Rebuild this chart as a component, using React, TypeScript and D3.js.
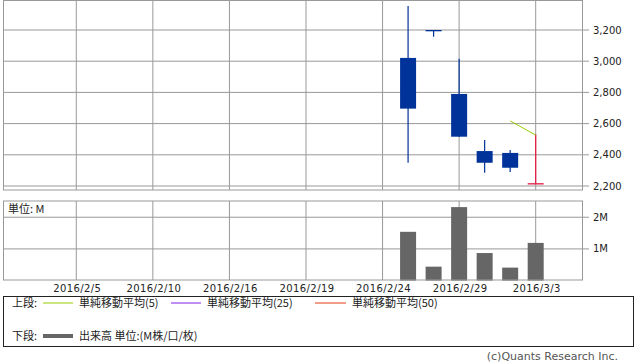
import React from "react";
import * as d3 from "d3";

const tradingDays = [
  "2016/2/2", "2016/2/3", "2016/2/4", "2016/2/5", "2016/2/8", "2016/2/9", "2016/2/10",
  "2016/2/12", "2016/2/15", "2016/2/16", "2016/2/17", "2016/2/18", "2016/2/19",
  "2016/2/22", "2016/2/23", "2016/2/24", "2016/2/25", "2016/2/26", "2016/2/29",
  "2016/3/1", "2016/3/2", "2016/3/3", "2016/3/4",
];
const xTickLabels = ["2016/2/5", "2016/2/10", "2016/2/16", "2016/2/19", "2016/2/24", "2016/2/29", "2016/3/3"];

const candleDates = ["2016/2/25", "2016/2/26", "2016/2/29", "2016/3/1", "2016/3/2", "2016/3/3"];
const opens = [3021, 3200, 2790, 2424, 2412, 2217];
const highs = [3354, 3200, 3015, 2495, 2431, 2531];
const lows = [2349, 3157, 2516, 2285, 2290, 2217];
const closes = [2696, 3199, 2516, 2349, 2317, 2218];
const volumes = [1.54, 0.44, 2.32, 0.87, 0.41, 1.19];

const ma5Dates = ["2016/3/2", "2016/3/3"];
const ma5Values = [2617, 2527];

const priceTicks = [2200, 2400, 2600, 2800, 3000, 3200];
const volumeTicks = [1, 2];

const W = 638;
const H = 362;
const left = 3.5;
const right = 582.5;
const pTop = 0.5;
const pBottom = 190;
const vTop = 201;
const vBottom = 280;

const GRID = "#999999";
const BLUE = "#003399";
const RED = "#e5173f";
const NUM_FONT = "'DejaVu Sans', sans-serif";
const JP_FONT = "'Noto Sans CJK JP', sans-serif";

export default function App() {
  const idx = (d: string) => tradingDays.indexOf(d);
  const x = d3.scaleLinear().domain([0.148, 22.834]).range([left, right]);
  const y = d3.scaleLinear().domain([2200, 3200]).range([186, 30]);
  const yv = d3.scaleLinear().domain([0, 2.5]).range([280.6, 201.4]);
  const fmt = d3.format(",");
  const bodyW = 16;

  const maLine = d3
    .line<number>()
    .x((_, i) => x(idx(ma5Dates[i])))
    .y((v) => y(v))(ma5Values);

  return (
    <svg
      width={W}
      height={H}
      style={{ position: "absolute", left: 0, top: 0, background: "#fff" }}
    >
      {/* price panel grid */}
      {priceTicks.map((t) => (
        <g key={"pt" + t}>
          <line x1={left} x2={right} y1={y(t)} y2={y(t)} stroke={GRID} strokeWidth={1} />
          <line x1={right} x2={589} y1={y(t)} y2={y(t)} stroke={GRID} strokeWidth={1} />
          <text x={593} y={y(t)} dy="0.35em" fontSize={10} fontFamily={NUM_FONT} fill="#222">
            {fmt(t)}
          </text>
        </g>
      ))}
      {xTickLabels.map((d) => (
        <g key={"xg" + d}>
          <line x1={x(idx(d))} x2={x(idx(d))} y1={pTop} y2={pBottom} stroke={GRID} strokeWidth={1} />
          <line x1={x(idx(d))} x2={x(idx(d))} y1={vTop} y2={vBottom} stroke={GRID} strokeWidth={1} />
          <text x={x(idx(d)) + 1} y={291.5} textAnchor="middle" fontSize={10} fontFamily={NUM_FONT} fill="#222" letterSpacing={0.4}>
            {d}
          </text>
        </g>
      ))}
      <rect x={left} y={pTop} width={right - left} height={pBottom - pTop} fill="none" stroke={GRID} strokeWidth={1} />

      {/* candles */}
      {candleDates.map((d, i) => {
        const cx = x(idx(d));
        const up = closes[i] >= opens[i];
        const col = up ? RED : BLUE;
        const top = y(Math.max(opens[i], closes[i]));
        const bot = y(Math.min(opens[i], closes[i]));
        const h = Math.max(bot - top, 1.3);
        return (
          <g key={"c" + d}>
            <line x1={cx} x2={cx} y1={y(highs[i])} y2={y(lows[i])} stroke={col} strokeWidth={1.2} />
            <rect x={cx - bodyW / 2} y={top} width={bodyW} height={h} fill={col} />
          </g>
        );
      })}
      <path d={maLine || ""} fill="none" stroke="#99cc00" strokeWidth={1} />

      {/* volume panel */}
      {volumeTicks.map((t) => (
        <g key={"vt" + t}>
          <line x1={left} x2={right} y1={yv(t)} y2={yv(t)} stroke={GRID} strokeWidth={1} />
          <line x1={right} x2={589} y1={yv(t)} y2={yv(t)} stroke={GRID} strokeWidth={1} />
          <text x={593} y={yv(t)} dy="0.35em" fontSize={10} fontFamily={NUM_FONT} fill="#222">
            {t + "M"}
          </text>
        </g>
      ))}
      {candleDates.map((d, i) => {
        const cx = x(idx(d));
        return (
          <rect
            key={"v" + d}
            x={cx - bodyW / 2}
            y={yv(volumes[i])}
            width={bodyW}
            height={yv(0) - yv(volumes[i])}
            fill="#666666"
          />
        );
      })}
      <rect x={left} y={vTop} width={right - left} height={vBottom - vTop} fill="none" stroke={GRID} strokeWidth={1} />
      <text x={8} y={213} fontSize={11} fontFamily={JP_FONT} fill="#222">
        単位: M
      </text>

      {/* legend */}
      <rect x={3.5} y={296.5} width={630} height={50} fill="none" stroke="#222" strokeWidth={1} />
      <text x={12} y={303} dy="0.35em" fontSize={11} fontFamily={JP_FONT} fill="#222">上段:</text>
      <line x1={43} x2={73} y1={303} y2={303} stroke="#99cc00" strokeWidth={1} />
      <text x={79} y={303} dy="0.35em" fontSize={11} fontFamily={JP_FONT} fill="#222">単純移動平均(5)</text>
      <line x1={171} x2={201} y1={303} y2={303} stroke="#7f1fe6" strokeWidth={1} />
      <text x={207} y={303} dy="0.35em" fontSize={11} fontFamily={JP_FONT} fill="#222">単純移動平均(25)</text>
      <line x1={315} x2={346} y1={303} y2={303} stroke="#e63a12" strokeWidth={1} />
      <text x={352} y={303} dy="0.35em" fontSize={11} fontFamily={JP_FONT} fill="#222">単純移動平均(50)</text>
      <text x={12} y={336} dy="0.35em" fontSize={11} fontFamily={JP_FONT} fill="#222">下段:</text>
      <line x1={43} x2={73} y1={336} y2={336} stroke="#666666" strokeWidth={4} />
      <text x={79} y={336} dy="0.35em" fontSize={11} fontFamily={JP_FONT} fill="#222">出来高 単位:(M株/口/枚)</text>

      <text x={618} y={360} textAnchor="end" fontSize={11} fontFamily={NUM_FONT} fill="#555">
        (c)Quants Research Inc.
      </text>
    </svg>
  );
}
